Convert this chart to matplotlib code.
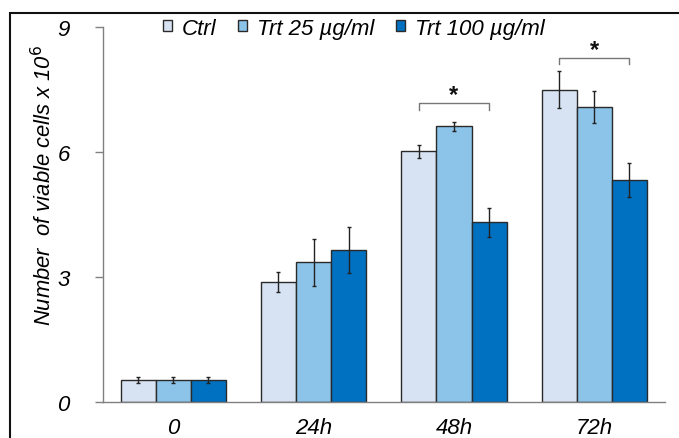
import numpy as np
import matplotlib
matplotlib.use("Agg")
import matplotlib.pyplot as plt
from matplotlib.patches import Rectangle

plt.rcParams["font.family"] = ["Liberation Sans", "DejaVu Sans"]

# data
time_points = ["0", "24h", "48h", "72h"]
series_names = ["Ctrl", "Trt 25 µg/ml", "Trt 100 µg/ml"]
ctrl = [0.53, 2.87, 6.02, 7.50]
trt25 = [0.53, 3.35, 6.62, 7.08]
trt100 = [0.53, 3.65, 4.31, 5.32]
ctrl_err = [0.08, 0.24, 0.16, 0.44]
trt25_err = [0.08, 0.57, 0.11, 0.38]
trt100_err = [0.08, 0.56, 0.34, 0.41]
sig_groups = [2, 3]          # groups with a Ctrl vs Trt 100 bracket
sig_heights = [7.17, 8.27]

colors = ["#D7E3F2", "#8CC3E8", "#0070C0"]

fig = plt.figure(figsize=(6.79, 4.39), dpi=100)
ax = fig.add_axes([0.1517, 0.082, 0.827, 0.854])

x = np.arange(len(time_points))
w = 0.25
values = [ctrl, trt25, trt100]
errors = [ctrl_err, trt25_err, trt100_err]
for i, (vals, errs) in enumerate(zip(values, errors)):
    ax.bar(x + (i - 1) * w, vals, w, color=colors[i], edgecolor="#2a2a2a",
           linewidth=1.0, label=series_names[i], zorder=2)
    ax.errorbar(x + (i - 1) * w, vals, yerr=errs, fmt="none", ecolor="#222222",
                elinewidth=1.0, capsize=1.5, capthick=1.0, zorder=3)

# significance brackets
for g, h in zip(sig_groups, sig_heights):
    x0, x1 = g - w, g + w
    ax.plot([x0, x0, x1, x1], [h - 0.16, h, h, h - 0.16], color="#777777",
            linewidth=1.0, zorder=3)
    ax.text(g, h + 0.2, "*", ha="center", va="center", fontsize=17,
            fontweight="bold", color="#111111")

ax.set_xlim(-0.5, 3.5)
ax.set_ylim(0, 9)
ax.set_yticks([0, 3, 6, 9])
ax.set_xticks(x)
ax.set_xticklabels(time_points, fontsize=16, fontstyle="italic")
ax.tick_params(axis="x", length=0, pad=11)
ax.tick_params(axis="y", length=6, width=1, color="#808080", direction="out",
               pad=18, labelsize=16)
for lbl in ax.get_yticklabels():
    lbl.set_fontstyle("italic")

for s in ["top", "right"]:
    ax.spines[s].set_visible(False)
for s in ["left", "bottom"]:
    ax.spines[s].set_color("#808080")
    ax.spines[s].set_linewidth(1.0)

ax.set_ylabel("Number  of viable cells x 10$^{6}$", fontsize=15.8,
              fontstyle="italic", labelpad=1, y=0.58)

ax.legend(loc="center left", bbox_to_anchor=(0.107, 0.997), ncol=3,
          frameon=False, borderpad=0, borderaxespad=0,
          prop={"size": 16, "style": "italic"}, handlelength=0.38,
          handleheight=0.38, handletextpad=0.45, columnspacing=1.0)

# outer frame, partly cut off at right and bottom
fig.patches.append(Rectangle((10 / 679, -0.2), 1.2, (439 - 14) / 439 + 0.2,
                             transform=fig.transFigure, fill=False,
                             edgecolor="#111111", linewidth=1.5))

fig.savefig("out.png", dpi=100)
